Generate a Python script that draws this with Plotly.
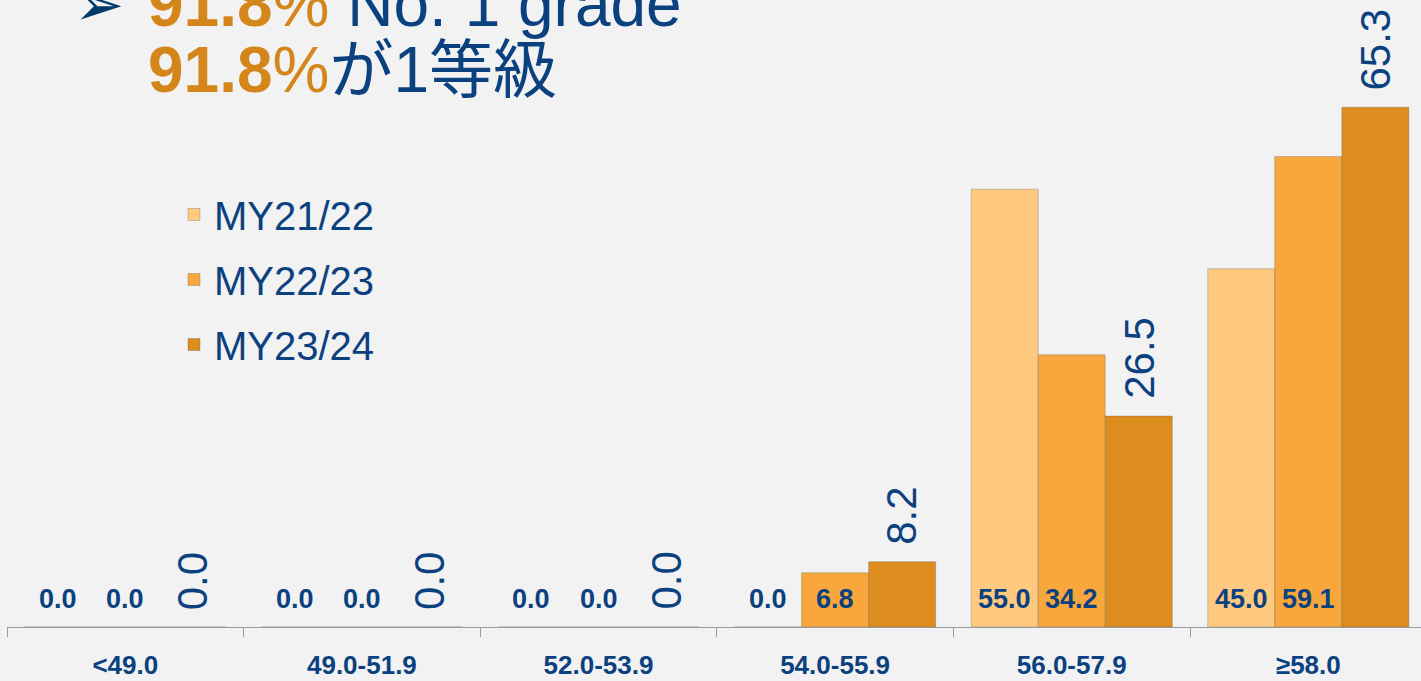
import plotly.graph_objects as go

categories = ["<49.0", "49.0-51.9", "52.0-53.9", "54.0-55.9", "56.0-57.9", "≥58.0"]
series_names = ["MY21/22", "MY22/23", "MY23/24"]
my2122 = [0.0, 0.0, 0.0, 0.0, 55.0, 45.0]
my2223 = [0.0, 0.0, 0.0, 6.8, 34.2, 59.1]
my2324 = [0.0, 0.0, 0.0, 8.2, 26.5, 65.3]
title_pct = "91.8"

colors = ["#FFC97F", "#F7A73B", "#DD8C1E"]
BLUE = "#0B417F"
ORANGE = "#D4861B"
SANS = "Liberation Sans, Arial, sans-serif"
JP = "Liberation Sans, Arial, Noto Sans CJK JP, sans-serif"

W, H = 1421, 681
ML, MR, MT, MB = 7, 0, 0, 54
PW, PH = W - ML - MR, H - MT - MB
BARGAP = 0.15


def px_x(x):
    return (x - ML) / PW


def px_y(y):
    return 1 - (y - MT) / PH


fig = go.Figure()
all_series = [my2122, my2223, my2324]
for name, vals, col in zip(series_names, all_series, colors):
    fig.add_trace(go.Bar(
        name=name, x=categories, y=vals,
        marker=dict(color=col, line=dict(color="rgba(90,90,90,0.3)", width=1)),
        legendgroup=name,
    ))

bw = (1 - BARGAP) / 3
# horizontal bold labels at the base for first two series
for k, vals in enumerate(all_series[:2]):
    for i, v in enumerate(vals):
        fig.add_annotation(
            x=i + (k - 1) * bw, y=0, xref="x", yref="y",
            text=f"<b>{v:.1f}</b>", showarrow=False,
            yanchor="bottom", xanchor="center", yshift=11,
            font=dict(family=SANS, size=27, color=BLUE),
        )
# rotated labels above the bars for the last series
for i, v in enumerate(all_series[2]):
    fig.add_annotation(
        x=i + bw, y=v, xref="x", yref="y",
        text=f"{v:.1f}", showarrow=False, textangle=-90,
        yanchor="bottom", xanchor="center", yshift=15,
        font=dict(family=SANS, size=42, color=BLUE),
    )

# title lines
fig.add_annotation(
    x=px_x(72), y=px_y(4), xref="paper", yref="paper",
    text="➢", showarrow=False, xanchor="left", yanchor="middle",
    font=dict(family="DejaVu Sans", size=60, color="#003A6B"),
)
fig.add_annotation(
    x=px_x(146), y=px_y(42), xref="paper", yref="paper",
    text=f"<span style='color:{ORANGE}'><b>{title_pct}</b>%</span> No. 1 grade",
    showarrow=False, xanchor="left", yanchor="bottom",
    font=dict(family=SANS, size=64, color=BLUE),
)
fig.add_annotation(
    x=px_x(146), y=px_y(108), xref="paper", yref="paper",
    text=f"<span style='color:{ORANGE}'><b>{title_pct}</b>%</span>が1等級",
    showarrow=False, xanchor="left", yanchor="bottom",
    font=dict(family=JP, size=64, color=BLUE),
)

fig.update_layout(
    width=W, height=H,
    margin=dict(l=ML, r=MR, t=MT, b=MB, pad=0),
    paper_bgcolor="#F2F2F2", plot_bgcolor="#F2F2F2",
    barmode="group", bargap=BARGAP, bargroupgap=0,
    showlegend=True,
    legend=dict(
        x=px_x(174), y=px_y(182), xanchor="left", yanchor="top",
        font=dict(family=SANS, size=40, color=BLUE),
        bgcolor="rgba(0,0,0,0)", traceorder="grouped", tracegroupgap=10,
    ),
    xaxis=dict(
        type="category", range=[-0.5, -0.5 + PW / 236.6],
        showline=True, linecolor="#9A9A9A", linewidth=1,
        ticks="outside", tickson="boundaries", ticklen=9, tickcolor="#9A9A9A",
        tickfont=dict(family=SANS, size=26, color=BLUE),
        ticklabelstandoff=15,
        showgrid=False, zeroline=False, automargin=False,
        tickprefix="<b>", ticksuffix="</b>",
    ),
    yaxis=dict(
        range=[0, PH / 7.96], visible=False, showgrid=False, zeroline=False,
        automargin=False,
    ),
)

fig.write_html(
    "out.html",
    config={"displayModeBar": False},
    post_script="document.body.style.margin='0';document.body.style.background='#F2F2F2';",
)
